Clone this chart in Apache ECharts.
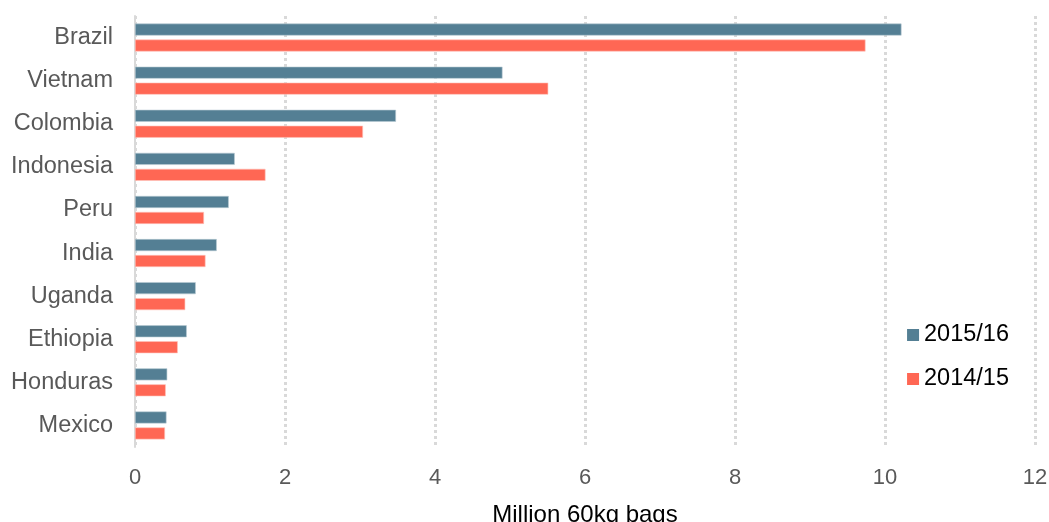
<!DOCTYPE html>
<html>
<head>
<meta charset="utf-8">
<script src="https://cdn.jsdelivr.net/npm/echarts@6/dist/echarts.min.js"></script>
<style>html,body{margin:0;padding:0;background:#fff}#c{width:1049px;height:522px}</style>
</head>
<body>
<div id="c"></div>
<script>
const categories = ['Brazil','Vietnam','Colombia','Indonesia','Peru','India','Uganda','Ethiopia','Honduras','Mexico'];
const s2015 = [10.22, 4.90, 3.48, 1.33, 1.25, 1.09, 0.81, 0.69, 0.43, 0.42];
const s2014 = [9.74, 5.51, 3.04, 1.74, 0.92, 0.94, 0.67, 0.57, 0.41, 0.40];
const xTicks = [0, 2, 4, 6, 8, 10, 12];

const chart = echarts.init(document.getElementById('c'));
const font = 'Liberation Sans, Arial, sans-serif';
chart.setOption({
  animation: false,
  textStyle: { fontFamily: font },
  grid: { left: 135, right: 14, top: 16, bottom: 75, containLabel: false, outerBoundsMode: 'none' },
  legend: {
    orient: 'vertical', right: 35, top: 318, itemGap: 20,
    itemWidth: 12, itemHeight: 12, icon: 'rect',
    itemStyle: { borderWidth: 0 },
    textStyle: { fontSize: 23.5, color: '#000', fontFamily: font, padding: [0,0,0,0] },
    data: ['2015/16', '2014/15']
  },
  xAxis: {
    type: 'value', min: 0, max: 12, interval: 2,
    name: 'Million 60kg bags', nameLocation: 'middle', nameGap: 56,
    nameTextStyle: { fontSize: 24, color: '#000', fontFamily: font },
    axisLine: { show: false }, axisTick: { show: false },
    axisLabel: { fontSize: 22, color: '#595959', margin: 20, fontFamily: font,
      formatter: v => xTicks.includes(v) ? String(v) : '' },
    splitLine: { show: true, lineStyle: { color: '#d9d9d9', type: [3, 3], width: 3 } }
  },
  yAxis: {
    type: 'category', data: categories, inverse: true,
    axisLine: { show: true, lineStyle: { color: '#d9d9d9', width: 2 } },
    axisTick: { show: false },
    axisLabel: { fontSize: 23.5, color: '#595959', margin: 22, fontFamily: font }
  },
  series: [
    { name: '2015/16', type: 'bar', data: s2015, barWidth: 12, barGap: '33%',
      itemStyle: { color: '#547f94', borderColor: '#b9cbd4', borderWidth: 0.6 } },
    { name: '2014/15', type: 'bar', data: s2014, barWidth: 12, barGap: '33%',
      itemStyle: { color: '#ff6754', borderColor: '#ffc2ba', borderWidth: 0.6 } }
  ]
});
</script>
</body>
</html>
